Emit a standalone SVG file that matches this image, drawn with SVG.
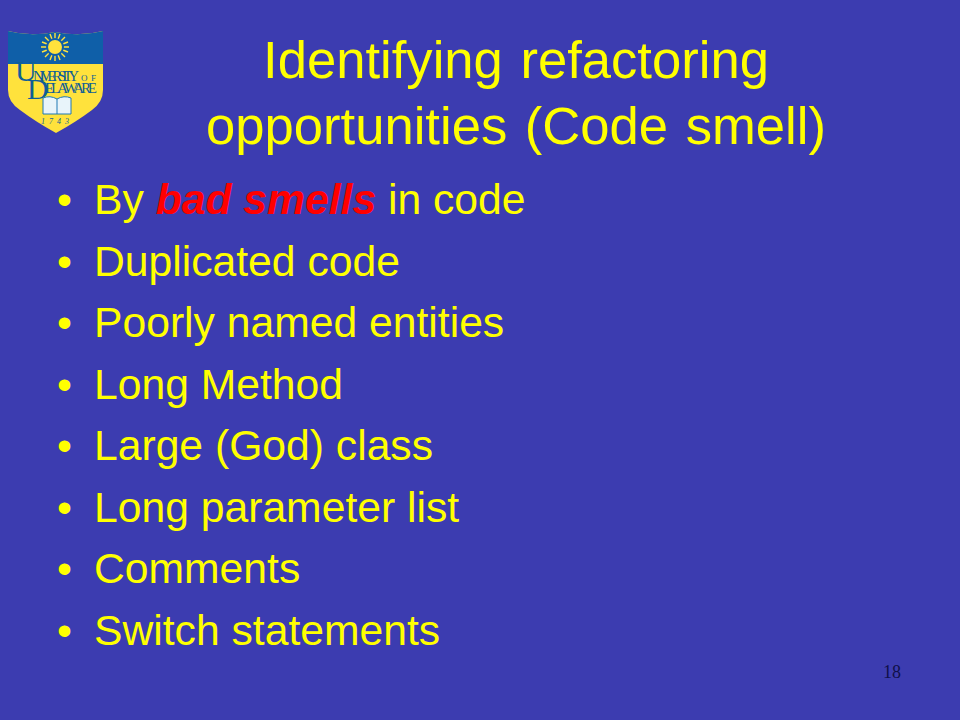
<svg xmlns="http://www.w3.org/2000/svg" width="960" height="720" viewBox="0 0 960 720">
<style>
text{font-family:"Liberation Sans",Arial,sans-serif;fill:#ffff00}
.t{font-size:52.6px;word-spacing:3px}
.b{font-size:42.67px}
.s{font-family:"Liberation Serif",serif;fill:#0f5f96}
</style>
<rect width="960" height="720" fill="#3c3cb0"/>
<g id="logo">
<path d="M8 31Q30 37 55 32Q80 37 103 31V90Q103 102 92 110Q76 122 56 133Q36 122 20 110Q8 102 8 90Z" fill="#ffe23c"/>
<path d="M8 31Q30 37 55 32Q80 37 103 31V64H8Z" fill="#0f5fa8"/>
<g stroke="#ffe23c" stroke-width="1.4">
<path d="M55 33V61M41 47H69M45 37L65 57M65 37L45 57M50 34L60 60M60 34L50 60M42 42L68 52M68 42L42 52"/>
</g>
<circle cx="55" cy="47" r="9" fill="#0f5fa8"/>
<circle cx="55" cy="47" r="7" fill="#ffe23c"/>
<text class="s" x="15" y="81" font-size="30">U</text>
<text class="s" x="27" y="99" font-size="30">D</text>
<text class="s" x="33" y="81" font-size="15" textLength="46">NIVERSITY</text>
<text class="s" x="81" y="81" font-size="9" textLength="15">OF</text>
<text class="s" x="45" y="93" font-size="15" textLength="52">ELAWARE</text>
<path d="M43 98Q50 95 57 99Q64 95 71 98V114H43Z" fill="#e8f4fa" stroke="#1f78b4" stroke-width="1"/>
<path d="M57 99V114" stroke="#1f78b4" stroke-width="1"/>
<text class="s" x="57" y="124" text-anchor="middle" font-size="8" font-style="italic" letter-spacing="4">1743</text>
</g>
<g id="title">
<text class="t" x="516" y="78" text-anchor="middle">Identifying refactoring</text>
<text class="t" x="516" y="144" text-anchor="middle">opportunities (Code smell)</text>
</g>
<g id="bullets" class="b">
<text x="57" y="214">•</text><text x="94" y="214">By <tspan style="fill:#ff0000;font-weight:bold;font-style:italic">bad smells</tspan> in code</text>
<text x="57" y="276">•</text><text x="94" y="276">Duplicated code</text>
<text x="57" y="337">•</text><text x="94" y="337">Poorly named entities</text>
<text x="57" y="399">•</text><text x="94" y="399">Long Method</text>
<text x="57" y="460">•</text><text x="94" y="460">Large (God) class</text>
<text x="57" y="522">•</text><text x="94" y="522">Long parameter list</text>
<text x="57" y="583">•</text><text x="94" y="583">Comments</text>
<text x="57" y="645">•</text><text x="94" y="645">Switch statements</text>
</g>
<text id="page" x="883" y="678" style="fill:#10104a;font-family:'Liberation Serif',serif;font-size:18px">18</text>
</svg>
